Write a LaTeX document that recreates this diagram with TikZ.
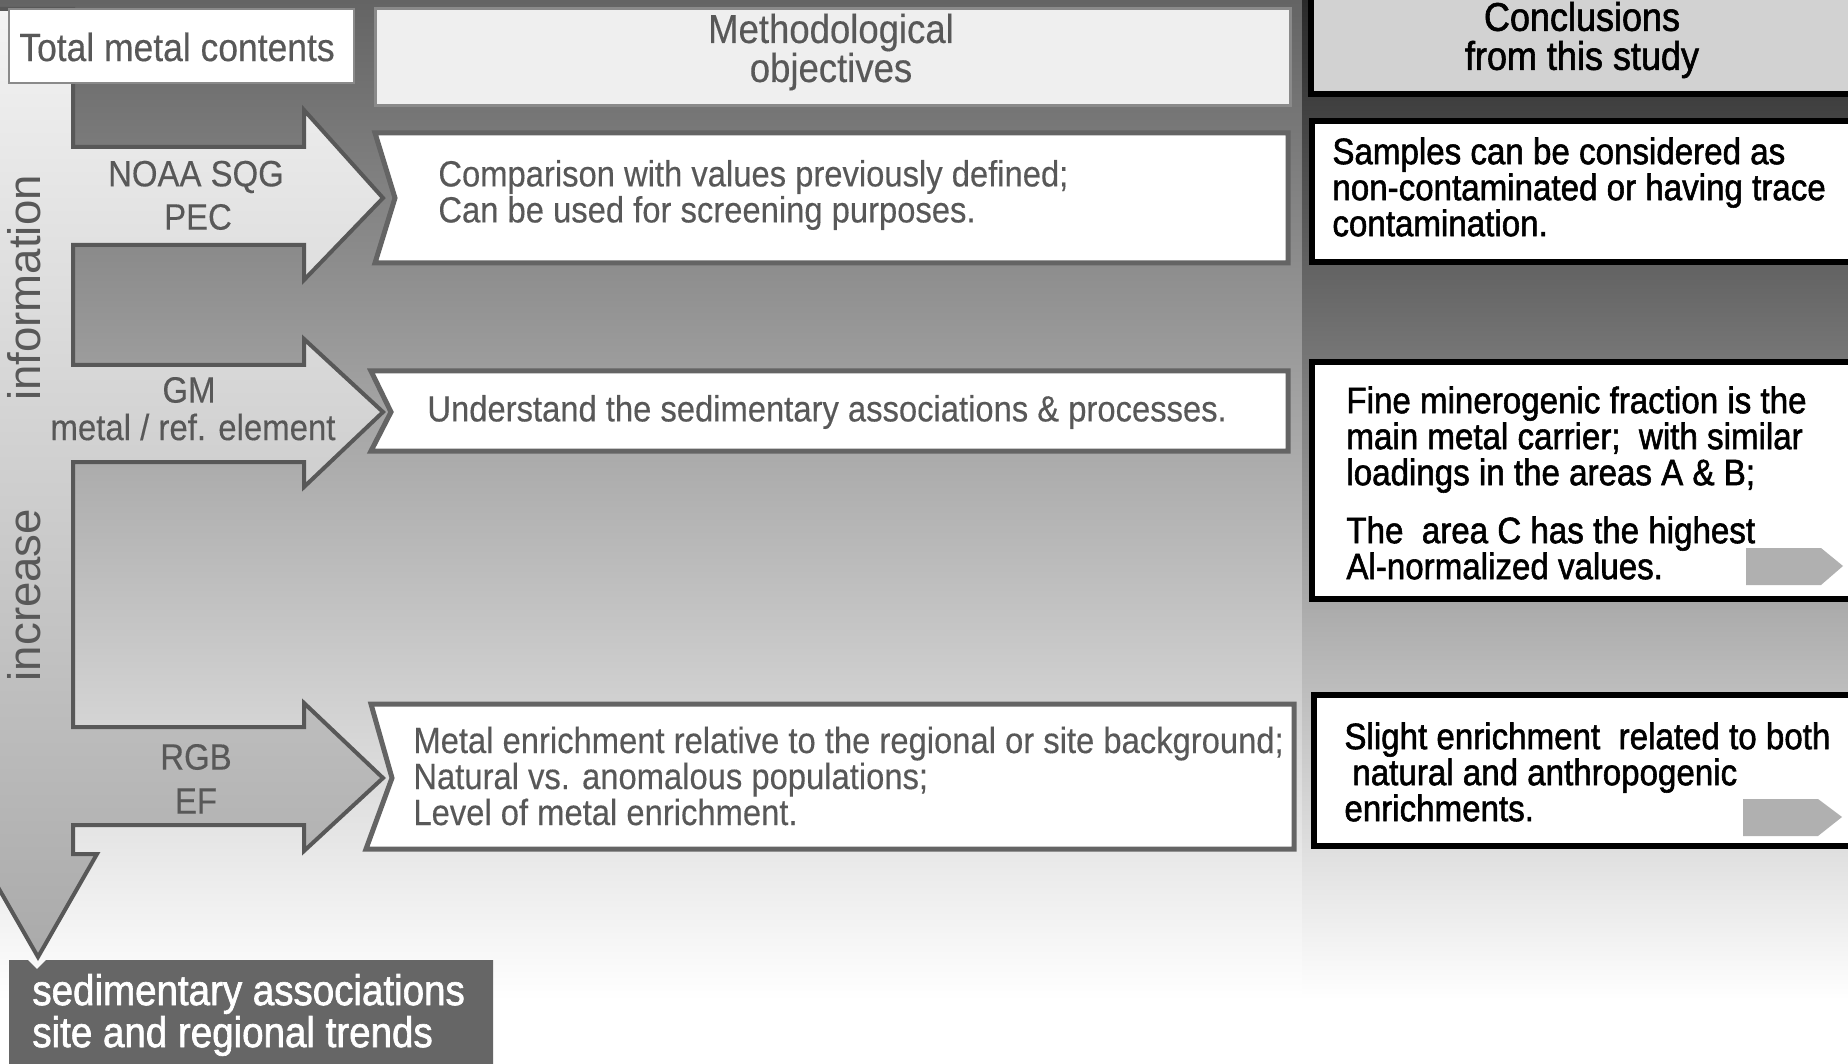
\documentclass[tikz,border=0pt]{standalone}
\usepackage{fontspec}
\setmainfont{Liberation Sans}
\newfontfamily\nfreg[FakeStretch=0.9,FakeBold=0.3]{Liberation Sans}
\newfontfamily\nfbold[FakeStretch=0.9,FakeBold=1.5]{Liberation Sans}
\definecolor{lbgtop}{RGB}{100,100,100}
\definecolor{rbgtop}{RGB}{42,42,42}
\definecolor{txtgray}{RGB}{88,88,88}
\definecolor{boxline}{RGB}{100,100,100}
\definecolor{arrowline}{RGB}{88,88,88}
\definecolor{smallarrow}{RGB}{176,176,176}
\definecolor{bottombox}{RGB}{102,102,102}
\definecolor{concfill}{RGB}{210,210,210}
\definecolor{methfill}{RGB}{239,239,239}
\definecolor{methline}{RGB}{138,138,138}
\definecolor{arrtop}{RGB}{243,243,243}
\definecolor{arrbot}{RGB}{170,170,170}
\pgfdeclareverticalshading{lbg}{100bp}{color(0bp)=(white); color(28bp)=(white); color(75bp)=(lbgtop); color(100bp)=(lbgtop)}
\pgfdeclareverticalshading{rbg}{100bp}{color(0bp)=(white); color(28bp)=(white); color(75bp)=(rbgtop); color(100bp)=(rbgtop)}
\begin{document}
\begin{tikzpicture}[x=0.5pt,y=-0.5pt,
  midbox/.style={draw=boxline, line width=2.5pt, fill=white, line join=miter},
  rbox/.style={draw=black, line width=2.6pt, fill=white},
  midtxt/.style={inner sep=0pt, anchor=west, align=left, text=txtgray, font=\nfreg\fontsize{18.2}{18}\selectfont},
  rtxt/.style={inner sep=0pt, anchor=west, align=left, text=black, font=\nfbold\fontsize{18.4}{18}\selectfont},
  arrlbl/.style={inner sep=0pt, text=txtgray, font=\nfreg\fontsize{18.3}{18}\selectfont},
  vlbl/.style={inner sep=0pt, rotate=90, anchor=base, text=txtgray, font=\fontsize{22.8}{24}\selectfont},
  smallarr/.style={fill=smallarrow, draw=none}]
\useasboundingbox (0,0) rectangle (1848,1064);
\clip (0,0) rectangle (1848,1064);
% backgrounds
\shade[shading=lbg] (0,0) rectangle (1302,1064);
\shade[shading=rbg] (1302,0) rectangle (1848,1064);
% big combined arrow shape
\path[draw=arrowline, line width=2pt, line join=miter, top color=arrtop, bottom color=arrbot]
  (-5,9) -- (73,9) -- (73,147) -- (304,147) -- (304,110) -- (383,198) -- (304,280) -- (304,245)
  -- (73,245) -- (73,365) -- (304,365) -- (304,339) -- (383,412) -- (304,487) -- (304,462)
  -- (73,462) -- (73,727) -- (304,727) -- (304,703) -- (383,778) -- (304,851) -- (304,825)
  -- (73,825) -- (73,854) -- (97,854) -- (38,957) -- (-21,854) -- (-5,854) -- cycle;
% header boxes
\path[fill=white, draw=methline, line width=0.6pt] (9,9) rectangle (354,83);
\path[fill=methfill, draw=methline, line width=1.5pt] (375,9) rectangle (1290,106);
\path[fill=concfill, draw=black, line width=2.6pt] (1311,-5) rectangle (1860,94);
% middle boxes
\path[midbox] (375,133) -- (1288,133) -- (1288,263) -- (375,263) -- (395,198) -- cycle;
\path[midbox] (371,371) -- (1288,371) -- (1288,451) -- (371,451) -- (391,412) -- cycle;
\path[midbox] (371,704) -- (1294,704) -- (1294,849) -- (366,849) -- (392,778) -- cycle;
% right boxes
\path[rbox] (1312,121) rectangle (1860,262);
\path[rbox] (1312,362) rectangle (1860,599);
\path[rbox] (1314,695) rectangle (1860,846);
\path[smallarr] (1746,548) -- (1821,548) -- (1843,566) -- (1821,585) -- (1746,585) -- cycle;
\path[smallarr] (1743,799) -- (1818,799) -- (1842,817) -- (1818,836) -- (1743,836) -- cycle;
% bottom box
\path[fill=bottombox] (9,960) -- (28,960) -- (37,969) -- (46,960) -- (493,960) -- (493,1070) -- (9,1070) -- cycle;
% texts
\node[inner sep=0pt, text=txtgray, font=\nfreg\fontsize{19.7}{20}\selectfont] (total) at (177,47) {Total metal contents};
\node[inner sep=0pt, align=center, text=txtgray, font=\nfreg\fontsize{20.3}{19.5}\selectfont] (meth) at (831,52) {Methodological\\objectives};
\node[inner sep=0pt, align=center, text=black, font=\nfbold\fontsize{20}{19.5}\selectfont] (concl) at (1582,40) {Conclusions\\from this study};
\node[midtxt] (m1) at (438,195) {Comparison with values previously defined;\\Can be used for screening purposes.};
\node[midtxt] (m2) at (427,412) {Understand the sedimentary associations \& processes.};
\node[midtxt] (m3) at (413,776) {Metal enrichment relative to the regional or site background;\\Natural vs. anomalous populations;\\Level of metal enrichment.};
\node[rtxt] (r1) at (1332,187) {Samples can be considered as\\non-contaminated or having trace\\contamination.};
\node[rtxt] (r2) at (1346,483) {Fine minerogenic fraction is the\\main metal carrier;\ \ with similar\\loadings in the areas A \& B;\\[11pt]The\ \ area C has the highest\\Al-normalized values.};
\node[rtxt] (r3) at (1344,772) {Slight enrichment\ \ related to both\\\hspace*{4pt}natural and anthropogenic\\enrichments.};
\node[arrlbl] (noaa) at (196,177) {NOAA SQG};
\node[arrlbl] (pec) at (198,217) {PEC};
\node[arrlbl] (gm) at (189,390) {GM};
\node[arrlbl] (ref) at (193,427) {metal / ref. element};
\node[arrlbl] (rgb) at (196,757) {RGB};
\node[arrlbl] (ef) at (196,801) {EF};
\node[vlbl] (info) at (40,288) {information};
\node[vlbl] (incr) at (40,595) {increase};
\node[inner sep=0pt, anchor=west, align=left, text=white, font=\nfbold\fontsize{21.4}{21}\selectfont] (sed) at (32,1015) {sedimentary associations\\site and regional trends};
\end{tikzpicture}
\end{document}
